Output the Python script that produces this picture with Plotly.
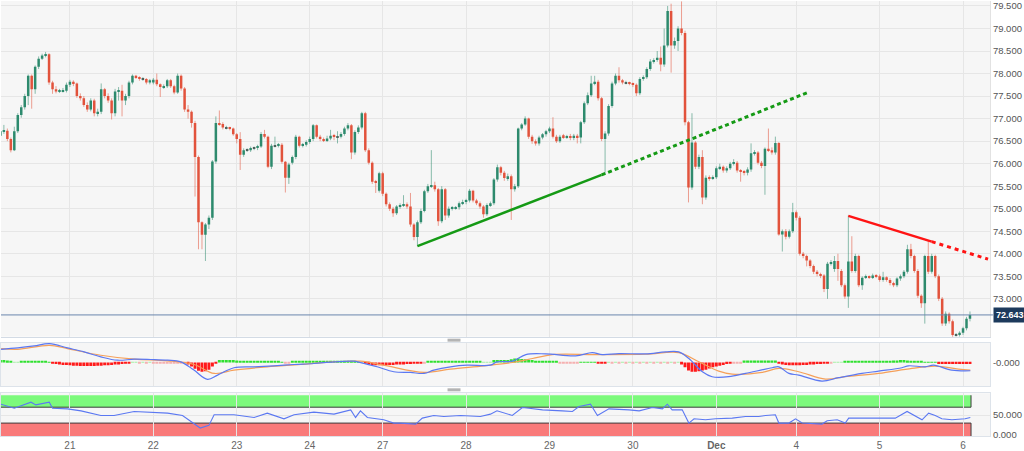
import plotly.graph_objects as go

# ---------------- data ----------------
day_ticks = [20, 44, 68, 89, 110, 134, 158, 182, 206, 229, 253, 277]
day_labels = ['21', '22', '23', '24', '27', '28', '29', '30', '<b>Dec</b>', '4', '5', '6']

opens = [
    76.62, 76.72, 76.73, 76.55, 76.30, 76.72, 77.08, 77.25, 77.50, 77.95,
    77.65, 78.15, 78.33, 78.40, 78.43, 77.80, 77.65, 77.60, 77.61, 77.62,
    77.75, 77.82, 77.78, 77.50, 77.45, 77.30, 77.20, 77.40, 77.12, 77.15,
    77.65, 77.50, 77.40, 77.12, 77.60, 77.62, 77.40, 77.50, 77.80, 77.95,
    77.92, 77.88, 77.88, 77.80, 77.80, 77.86, 77.76, 77.70, 77.72, 77.85,
    77.72, 77.58, 77.95, 77.67, 77.20, 77.15, 76.90, 76.15, 74.70, 74.42,
    74.65, 74.80, 76.05, 76.90, 76.88, 76.80, 76.80, 76.78, 76.65, 76.55,
    76.20, 76.30, 76.30, 76.35, 76.35, 76.38, 76.66, 76.60, 75.93, 76.40,
    76.40, 76.42, 76.04, 75.69, 76.02, 76.15, 76.60, 76.40, 76.42, 76.48,
    76.55, 76.85, 76.60, 76.55, 76.52, 76.56, 76.62, 76.60, 76.60, 76.66,
    76.78, 76.85, 76.25, 76.70, 76.80, 77.12, 76.30, 76.02, 75.60, 75.40,
    75.79, 75.33, 75.10, 75.00, 74.90, 75.05, 75.08, 75.10, 75.05, 74.65,
    74.37, 74.70, 74.95, 75.39, 75.50, 75.52, 75.43, 74.72, 75.43, 74.85,
    75.00, 75.02, 75.03, 75.12, 75.15, 75.18, 75.40, 75.18, 75.12, 75.05,
    74.88, 75.08, 75.12, 75.65, 75.92, 75.80, 75.68, 75.72, 75.43, 75.50,
    76.78, 76.87, 77.00, 76.60, 76.50, 76.45, 76.58, 76.65, 76.72, 76.78,
    76.60, 76.50, 76.63, 76.59, 76.60, 76.57, 76.62, 76.58, 76.92, 77.34,
    77.52, 77.78, 77.82, 77.45, 76.55, 76.67, 77.28, 77.78, 77.95, 77.85,
    77.80, 77.80, 77.78, 77.75, 77.56, 77.88, 77.92, 78.10, 78.27, 78.30,
    78.35, 78.20, 78.62, 79.39, 78.62, 78.72, 79.00, 78.90, 76.92, 75.47,
    76.47, 75.93, 76.15, 75.25, 75.69, 75.68, 75.70, 75.90, 75.93, 75.85,
    75.90, 76.00, 76.02, 75.85, 75.82, 75.80, 75.87, 76.23, 76.25, 76.02,
    75.95, 76.33, 76.30, 76.25, 76.46, 74.43, 74.50, 74.38, 74.50, 74.92,
    74.80, 74.00, 73.95, 73.85, 73.73, 73.60, 73.55, 73.52, 73.22, 73.78,
    73.66, 73.84, 73.62, 73.30, 73.05, 73.83, 73.62, 73.95, 73.30, 73.47,
    73.50, 73.48, 73.52, 73.50, 73.42, 73.48, 73.42, 73.35, 73.30, 73.45,
    73.50, 73.60, 74.10, 73.95, 73.62, 73.07, 72.90, 73.95, 73.60, 73.95,
    73.50, 73.00, 72.45, 72.67, 72.50, 72.20, 72.20, 72.25, 72.35, 72.56,
]
closes = [
    76.72, 76.73, 76.55, 76.30, 76.72, 77.08, 77.25, 77.50, 77.95, 77.65,
    78.15, 78.33, 78.40, 78.43, 77.80, 77.65, 77.60, 77.61, 77.62, 77.75,
    77.82, 77.78, 77.50, 77.45, 77.30, 77.20, 77.40, 77.12, 77.15, 77.65,
    77.50, 77.40, 77.12, 77.60, 77.62, 77.40, 77.50, 77.80, 77.95, 77.92,
    77.88, 77.88, 77.80, 77.85, 77.86, 77.76, 77.70, 77.72, 77.85, 77.72,
    77.58, 77.95, 77.67, 77.20, 77.15, 76.90, 76.15, 74.70, 74.42, 74.65,
    74.80, 76.05, 76.90, 76.88, 76.80, 76.80, 76.78, 76.65, 76.55, 76.20,
    76.30, 76.30, 76.35, 76.35, 76.38, 76.66, 76.60, 75.93, 76.40, 76.40,
    76.42, 76.04, 75.69, 75.98, 76.15, 76.60, 76.40, 76.42, 76.48, 76.55,
    76.85, 76.60, 76.55, 76.52, 76.56, 76.62, 76.60, 76.60, 76.66, 76.78,
    76.85, 76.25, 76.70, 76.80, 77.12, 76.30, 76.02, 75.60, 75.58, 75.79,
    75.33, 75.10, 75.00, 74.90, 75.05, 75.08, 75.10, 75.05, 74.65, 74.37,
    74.70, 74.95, 75.39, 75.50, 75.52, 75.43, 74.72, 75.43, 74.85, 75.00,
    75.02, 75.03, 75.12, 75.15, 75.18, 75.40, 75.18, 75.12, 75.05, 74.88,
    75.08, 75.12, 75.65, 75.92, 75.80, 75.68, 75.72, 75.43, 75.50, 76.78,
    76.87, 77.00, 76.60, 76.50, 76.45, 76.58, 76.65, 76.72, 76.78, 76.60,
    76.50, 76.60, 76.59, 76.60, 76.57, 76.62, 76.58, 76.92, 77.34, 77.52,
    77.78, 77.82, 77.45, 76.55, 76.67, 77.28, 77.78, 77.95, 77.85, 77.80,
    77.80, 77.78, 77.75, 77.56, 77.88, 77.92, 78.10, 78.27, 78.30, 78.35,
    78.20, 78.62, 79.39, 78.62, 78.72, 79.00, 78.90, 76.92, 75.47, 76.47,
    75.93, 76.15, 75.25, 75.69, 75.68, 75.70, 75.90, 75.93, 75.85, 75.90,
    76.00, 76.02, 75.85, 75.82, 75.80, 75.87, 76.23, 76.25, 76.02, 75.95,
    76.33, 76.30, 76.25, 76.46, 74.43, 74.50, 74.38, 74.50, 74.92, 74.80,
    74.00, 73.95, 73.85, 73.73, 73.60, 73.55, 73.52, 73.22, 73.78, 73.80,
    73.84, 73.66, 73.30, 73.05, 73.83, 73.62, 73.95, 73.30, 73.47, 73.50,
    73.48, 73.52, 73.50, 73.42, 73.48, 73.42, 73.35, 73.30, 73.45, 73.50,
    73.60, 74.10, 73.95, 73.62, 73.07, 72.90, 73.95, 73.60, 73.95, 73.50,
    73.00, 72.45, 72.67, 72.50, 72.20, 72.20, 72.25, 72.35, 72.56, 72.643,
]
highs = [
    76.80, 76.86, 76.78, 76.58, 76.82, 77.12, 77.30, 77.55, 77.98, 77.98,
    78.18, 78.38, 78.44, 78.48, 78.45, 77.84, 77.72, 77.66, 77.68, 77.80,
    77.86, 77.85, 77.80, 77.56, 77.50, 77.36, 77.45, 77.44, 77.22, 77.78,
    77.68, 77.56, 77.45, 77.66, 77.70, 77.75, 77.55, 77.84, 77.98, 77.97,
    77.94, 77.92, 77.90, 77.88, 77.90, 78.00, 77.78, 77.76, 77.88, 77.88,
    77.75, 78.00, 77.98, 77.70, 77.30, 77.18, 76.95, 76.18, 74.72, 74.68,
    74.85, 76.08, 77.05, 77.18, 76.92, 76.84, 76.82, 76.80, 76.68, 76.70,
    76.34, 76.34, 76.38, 76.38, 76.42, 76.70, 76.75, 76.62, 76.44, 76.60,
    76.46, 76.46, 76.06, 76.02, 76.18, 76.64, 76.62, 76.46, 76.52, 76.60,
    76.88, 76.87, 76.64, 76.58, 76.62, 76.75, 76.66, 76.72, 76.70, 76.82,
    76.90, 76.88, 76.74, 76.85, 77.15, 77.15, 76.34, 76.05, 75.64, 75.82,
    75.82, 75.36, 75.14, 75.04, 75.08, 75.12, 75.30, 75.14, 75.35, 74.68,
    74.74, 75.00, 75.42, 75.55, 76.30, 75.60, 75.46, 75.50, 75.46, 75.05,
    75.06, 75.06, 75.16, 75.20, 75.22, 75.44, 75.42, 75.22, 75.16, 75.08,
    75.12, 75.16, 75.68, 75.98, 75.95, 75.84, 75.78, 75.76, 75.55, 76.80,
    76.90, 77.05, 77.02, 76.64, 76.54, 76.62, 76.68, 76.75, 76.82, 77.03,
    76.64, 76.64, 76.66, 76.64, 76.66, 76.66, 76.66, 76.95, 77.38, 77.58,
    77.95, 77.95, 77.86, 77.48, 76.72, 77.32, 77.82, 78.00, 78.14, 77.88,
    77.84, 77.82, 77.80, 77.78, 77.92, 77.96, 78.14, 78.32, 78.34, 78.50,
    78.60, 79.00, 79.50, 79.55, 78.80, 79.05, 79.60, 78.95, 76.95, 77.12,
    76.50, 76.20, 76.30, 75.74, 75.74, 75.74, 75.94, 76.00, 75.96, 75.94,
    76.04, 76.10, 76.06, 75.88, 75.86, 75.92, 76.45, 76.30, 76.28, 76.06,
    76.36, 76.78, 76.36, 76.60, 76.48, 74.54, 74.55, 74.54, 75.13, 74.96,
    74.84, 74.04, 73.98, 73.88, 73.76, 73.64, 73.58, 73.55, 73.82, 73.86,
    73.95, 74.00, 73.66, 73.34, 74.85, 74.39, 74.00, 73.98, 73.50, 73.54,
    73.52, 73.56, 73.55, 73.54, 73.60, 73.50, 73.46, 73.38, 73.48, 73.54,
    73.64, 74.20, 74.22, 73.98, 73.66, 73.10, 73.98, 74.28, 74.00, 73.98,
    73.54, 73.04, 72.72, 72.70, 72.54, 72.24, 72.28, 72.38, 72.60, 72.72,
]
lows = [
    76.58, 76.66, 76.50, 76.25, 76.28, 76.68, 77.02, 77.20, 77.30, 77.22,
    77.55, 78.10, 78.30, 78.36, 77.75, 77.55, 77.56, 77.57, 77.58, 77.58,
    77.70, 77.72, 77.46, 77.40, 77.26, 77.15, 77.16, 77.05, 77.05, 77.10,
    77.45, 77.35, 76.98, 77.05, 77.40, 77.05, 77.30, 77.45, 77.76, 77.88,
    77.84, 77.84, 77.76, 77.76, 77.76, 77.72, 77.48, 77.66, 77.68, 77.68,
    77.54, 77.55, 77.62, 77.15, 77.00, 76.80, 75.27, 74.10, 74.10, 73.84,
    74.55, 74.75, 76.00, 76.84, 76.76, 76.76, 76.74, 76.62, 76.45, 75.86,
    76.15, 76.26, 76.26, 76.30, 76.30, 76.35, 76.56, 75.90, 75.88, 76.36,
    76.36, 76.00, 75.36, 75.55, 75.98, 76.10, 76.36, 76.36, 76.38, 76.44,
    76.50, 76.56, 76.50, 76.48, 76.48, 76.52, 76.52, 76.45, 76.56, 76.62,
    76.74, 76.10, 76.20, 76.66, 76.76, 76.26, 75.98, 75.55, 75.35, 75.36,
    75.28, 75.05, 74.95, 74.82, 74.86, 75.00, 75.04, 75.00, 74.60, 74.30,
    74.17, 74.66, 74.92, 75.35, 75.46, 75.38, 74.62, 74.68, 74.75, 74.80,
    74.96, 74.98, 74.98, 75.08, 75.10, 75.14, 75.14, 75.08, 75.00, 74.80,
    74.84, 75.04, 75.08, 75.60, 75.74, 75.62, 75.62, 74.75, 75.38, 75.46,
    76.74, 76.84, 76.55, 76.44, 76.40, 76.40, 76.54, 76.60, 76.68, 76.56,
    76.46, 76.46, 76.55, 76.55, 76.52, 76.52, 76.45, 76.45, 76.88, 77.30,
    77.48, 77.74, 77.40, 76.50, 75.75, 76.62, 77.24, 77.74, 77.80, 77.76,
    77.76, 77.74, 77.70, 77.50, 77.52, 77.84, 77.88, 78.06, 78.22, 78.26,
    78.05, 78.15, 78.58, 78.02, 78.55, 78.50, 78.85, 76.85, 75.14, 75.42,
    75.88, 75.88, 75.10, 75.20, 75.62, 75.64, 75.66, 75.86, 75.80, 75.80,
    75.86, 75.96, 75.80, 75.60, 75.74, 75.74, 75.82, 76.18, 75.98, 75.90,
    75.31, 76.26, 76.20, 76.20, 74.40, 74.05, 74.32, 74.34, 74.46, 74.74,
    73.96, 73.90, 73.72, 73.68, 73.55, 73.50, 73.46, 73.15, 73.00, 73.74,
    73.60, 73.40, 73.26, 73.00, 72.80, 73.58, 73.58, 73.26, 73.20, 73.44,
    73.44, 73.44, 73.46, 73.38, 73.38, 73.38, 73.30, 73.26, 73.26, 73.40,
    73.46, 73.56, 73.90, 73.58, 73.02, 72.80, 72.45, 73.55, 73.56, 73.46,
    72.95, 72.40, 72.40, 72.45, 72.15, 72.16, 72.16, 72.20, 72.30, 72.50,
]

# trend lines (candle index, price)
green_solid_x = [120.0, 173.0]
green_solid_y = [74.17, 75.75]
green_dot_x = [173.0, 232.3]
green_dot_y = [75.75, 77.58]
red_solid_x = [244.0, 268.0]
red_solid_y = [74.84, 74.27]
red_dot_x = [268.0, 284.2]
red_dot_y = [74.27, 73.88]

price_ticks = [73.0, 73.5, 74.0, 74.5, 75.0, 75.5, 76.0, 76.5, 77.0, 77.5, 78.0, 78.5, 79.0, 79.5]

# MACD (sampled from the panel)
macd_x = [0.2, 5.0, 9.75, 14.1, 19.3, 24.1, 28.9, 33.7, 38.5, 43.3, 48.1, 51.9, 55.7, 59.6, 62.5,
          67.2, 73.0, 78.7, 84.5, 90.2, 96.0, 101.7, 104.6, 108.4, 113.2, 118.0, 121.9, 124.7,
          129.5, 134.3, 141.0, 142.9, 147.3, 151.2, 156.9, 165.5, 170.3, 173.2, 178.0, 185.7,
          191.4, 195.2, 198.1, 202.0, 204.8, 209.6, 214.4, 222.1, 224.0, 226.9, 229.7, 236.4,
          241.2, 247.9, 252.7, 259.4, 261.3, 266.1, 268.5, 273.8, 279.1]
macd_v = [0.333, 0.367, 0.417, 0.475, 0.367, 0.267, 0.142, 0.058, 0.083, 0.075, 0.058, 0.017, -0.192,
          -0.425, -0.317, -0.133, -0.108, -0.083, -0.05, -0.025, 0.017, 0.033, -0.025, -0.108,
          -0.233, -0.25, -0.275, -0.192, -0.108, -0.067, -0.067, 0.017, 0.033, 0.2, 0.217, 0.167,
          0.25, 0.2, 0.225, 0.217, 0.267, 0.267, 0.1, -0.233, -0.358, -0.358, -0.275, -0.133,
          -0.108, -0.275, -0.317, -0.467, -0.383, -0.275, -0.217, -0.133, -0.083, -0.108, -0.067,
          -0.192, -0.208]
signal_x = [0.2, 5.0, 14.1, 19.3, 28.9, 38.5, 48.1, 55.7, 61.5, 67.2, 76.8, 86.4, 96.0, 103.6,
            110.3, 121.9, 129.5, 139.1, 147.3, 153.1, 158.8, 171.3, 185.7, 195.2, 201.0, 206.7,
            210.6, 219.2, 224.0, 229.7, 237.4, 243.1, 252.7, 262.3, 269.0, 275.7, 279.1]
signal_v = [0.35, 0.333, 0.433, 0.35, 0.183, 0.083, 0.042, -0.05, -0.275, -0.192, -0.108, -0.05,
            0.017, 0.033, -0.067, -0.25, -0.167, -0.083, 0.0, 0.1, 0.2, 0.2, 0.208, 0.25, 0.017,
            -0.217, -0.292, -0.25, -0.15, -0.233, -0.417, -0.358, -0.275, -0.15, -0.092, -0.167,
            -0.192]
hist = [
    0.06, 0.06, 0.05, 0.04, 0.01, 0.01, 0.04, 0.04, 0.04, 0.04,
    0.04, 0.04, 0.04, 0.04, 0.02, -0.02, -0.04, -0.05, -0.06, -0.06,
    -0.07, -0.08, -0.08, -0.09, -0.09, -0.09, -0.09, -0.09, -0.08, -0.08,
    -0.07, -0.07, -0.06, -0.05, -0.05, -0.04, -0.03, -0.02, 0.01, 0.01,
    -0.01, 0.01, -0.01, 0.01, -0.01, -0.01, -0.015, -0.015, -0.015, -0.015,
    -0.015, -0.015, -0.015, -0.015, -0.05, -0.10, -0.16, -0.21, -0.23, -0.22,
    -0.18, -0.10, -0.03, 0.06, 0.06, 0.06, 0.06, 0.06, 0.05, 0.03,
    0.03, 0.03, 0.03, 0.03, 0.03, 0.03, 0.03, 0.03, 0.03, 0.03,
    0.03, 0.02, -0.01, -0.01, 0.03, 0.03, 0.03, 0.03, 0.03, 0.03,
    0.03, 0.03, 0.03, 0.03, 0.03, 0.03, 0.03, 0.03, 0.03, 0.03,
    0.03, 0.03, 0.03, 0.02, 0.01, -0.03, -0.05, -0.06, -0.07, -0.07,
    -0.07, -0.06, -0.06, -0.06, -0.05, -0.05, -0.05, -0.04, -0.04, -0.03,
    -0.03, -0.02, -0.01, 0.03, 0.03, 0.03, 0.03, 0.03, 0.03, 0.03,
    0.03, 0.03, 0.03, 0.03, 0.03, 0.03, 0.03, 0.03, 0.03, 0.01,
    0.01, 0.01, 0.06, 0.06, 0.06, 0.06, 0.06, 0.08, 0.10, 0.10,
    0.09, 0.08, 0.07, 0.06, 0.03, 0.03, 0.03, 0.03, 0.03, 0.03,
    0.03, -0.01, -0.01, -0.01, -0.01, -0.01, -0.01, 0.02, 0.02, 0.02,
    0.02, 0.02, -0.02, -0.02, -0.02, 0.01, -0.01, 0.01, -0.01, 0.01,
    -0.01, 0.01, -0.01, 0.01, -0.01, 0.01, -0.01, 0.01, -0.01, 0.01,
    -0.01, 0.01, -0.01, 0.01, -0.01, 0.01, -0.05, -0.12, -0.20, -0.23,
    -0.23, -0.22, -0.20, -0.18, -0.15, -0.12, -0.10, -0.08, -0.06, -0.04,
    -0.02, -0.01, -0.01, -0.01, 0.05, 0.05, 0.05, 0.05, 0.05, 0.05,
    0.05, 0.05, 0.05, 0.05, -0.03, -0.05, -0.06, -0.07, -0.07, -0.07,
    -0.07, -0.06, -0.06, -0.05, -0.05, -0.04, -0.04, -0.03, -0.02, -0.01,
    0.01, 0.01, 0.01, 0.04, 0.04, 0.04, 0.04, 0.04, 0.04, 0.04,
    0.04, 0.04, 0.04, 0.04, 0.04, 0.04, 0.04, 0.05, 0.05, 0.06,
    0.06, 0.05, 0.04, 0.04, 0.04, 0.04, 0.02, 0.02, 0.02, 0.02,
    -0.04, -0.04, -0.04, -0.04, -0.04, -0.04, -0.04, -0.04, -0.04, -0.04,
]

# RSI (sampled)
rsi_x = [0.17, 4.0, 8.8, 10.2, 14.05, 15.0, 19.3, 23.2, 28.9, 32.7, 38.5, 48.1, 52.4, 55.7, 57.5,
         60.0, 61.5, 67.2, 73.0, 76.8, 81.6, 84.5, 90.2, 96.0, 98.8, 100.8, 102.2, 103.6, 105.6,
         110.3, 113.2, 115.1, 119.5, 121.4, 124.7, 127.6, 132.4, 138.1, 141.0, 142.9, 147.3,
         150.2, 152.1, 156.0, 161.7, 164.6, 166.5, 169.8, 171.8, 175.1, 180.9, 183.8, 187.6,
         190.5, 191.9, 193.3, 196.2, 198.1, 199.6, 202.9, 205.8, 210.6, 214.4, 218.2, 220.2,
         223.0, 224.0, 226.9, 228.8, 230.7, 236.4, 237.9, 240.8, 243.1, 244.1, 247.9, 252.7,
         257.5, 260.9, 265.2, 267.1, 269.0, 270.9, 273.8, 277.6, 279.1]
rsi_v = [77.5, 67.5, 82.5, 75.8, 82.5, 67.5, 65.8, 60.8, 49.2, 49.2, 59.2, 55.0, 49.2, 27.5, 17.5,
         24.2, 50.8, 50.8, 44.2, 55.0, 40.8, 50.8, 57.5, 52.5, 59.2, 63.3, 44.2, 60.8, 44.2, 38.3,
         30.0, 30.0, 27.5, 42.5, 49.2, 46.7, 49.2, 46.7, 52.5, 60.8, 49.2, 69.2, 67.5, 63.3, 60.8,
         59.2, 71.7, 77.5, 49.2, 65.8, 63.3, 60.8, 69.2, 65.8, 77.5, 63.3, 63.3, 30.0, 40.8, 38.3,
         40.8, 42.5, 46.7, 46.7, 49.2, 50.8, 30.0, 30.0, 40.8, 30.0, 27.5, 35.8, 38.3, 30.0, 42.5,
         42.5, 40.8, 42.5, 59.2, 38.3, 55.0, 49.2, 40.8, 38.3, 40.8, 44.2]

# ---------------- figure ----------------
N = len(closes)
idx = list(range(N))
X_RANGE = [0.17, 284.76]

GREEN = '#2e8b6e'
RED = '#e2533d'
GRID = '#e6e6e6'
FONT = 'Liberation Sans, Arial, sans-serif'

fig = go.Figure()

# wicks
wgx, wgy, wrx, wry = [], [], [], []
for i, (o, h, l, c) in enumerate(zip(opens, highs, lows, closes)):
    if c >= o:
        wgx += [i, i, None]; wgy += [l, h, None]
    else:
        wrx += [i, i, None]; wry += [l, h, None]
fig.add_trace(go.Scatter(x=wgx, y=wgy, mode='lines', line=dict(color='rgba(46,139,110,0.55)', width=1),
                         hoverinfo='skip', xaxis='x', yaxis='y'))
fig.add_trace(go.Scatter(x=wrx, y=wry, mode='lines', line=dict(color='rgba(226,83,61,0.55)', width=1),
                         hoverinfo='skip', xaxis='x', yaxis='y'))

# bodies
MINB = 0.02
bh, bb, bc = [], [], []
for o, c in zip(opens, closes):
    d = abs(c - o)
    hgt = max(d, MINB)
    bh.append(hgt)
    bb.append(min(o, c) - (hgt - d) / 2)
    if abs(c - o) < 0.005:
        bc.append('#555555')
    elif c > o:
        bc.append(GREEN)
    else:
        bc.append(RED)
fig.add_trace(go.Bar(x=idx, y=bh, base=bb, width=0.72, marker=dict(color=bc, line=dict(width=0)),
                     hoverinfo='skip', xaxis='x', yaxis='y'))

# trend lines
fig.add_trace(go.Scatter(x=green_solid_x, y=green_solid_y, mode='lines',
                         line=dict(color='#159a15', width=2.5), xaxis='x', yaxis='y'))
fig.add_trace(go.Scatter(x=green_dot_x, y=green_dot_y, mode='lines',
                         line=dict(color='#159a15', width=3, dash='4px,3px'), xaxis='x', yaxis='y'))
fig.add_trace(go.Scatter(x=red_solid_x, y=red_solid_y, mode='lines',
                         line=dict(color='#ff1414', width=2.5), xaxis='x', yaxis='y'))
fig.add_trace(go.Scatter(x=red_dot_x, y=red_dot_y, mode='lines',
                         line=dict(color='#ff1414', width=3, dash='4px,4px'), xaxis='x', yaxis='y'))

# MACD
hc = []
for v in hist:
    if v >= 0:
        hc.append('#2fe02f' if v > 0.015 else '#a6f0a6')
    else:
        hc.append('#ff1a1a' if v < -0.015 else '#f5b1b1')
fig.add_trace(go.Bar(x=idx, y=hist, width=0.85, marker=dict(color=hc, line=dict(width=0)),
                     hoverinfo='skip', xaxis='x2', yaxis='y2'))
fig.add_trace(go.Scatter(x=signal_x, y=signal_v, mode='lines', line=dict(color='#f5a05a', width=1.2, shape='spline'),
                         xaxis='x2', yaxis='y2'))
fig.add_trace(go.Scatter(x=macd_x, y=macd_v, mode='lines', line=dict(color='#5b78f2', width=1.2, shape='spline'),
                         xaxis='x2', yaxis='y2'))

# RSI
fig.add_trace(go.Scatter(x=rsi_x, y=rsi_v, mode='lines', line=dict(color='#5b78f2', width=1.1),
                         xaxis='x3', yaxis='y3'))

last = closes[-1]
RSI_RANGE = [-2.5, 105]

shapes = [
    # current price line
    dict(type='line', xref='x domain', x0=0, x1=1.003, yref='y', y0=last, y1=last,
         line=dict(color='#6b86ad', width=1), layer='above'),
    # RSI bands
    dict(type='rect', xref='x3', x0=X_RANGE[0], x1=N - 1 + 0.3, yref='y3', y0=70, y1=100,
         fillcolor='#7cfa7c', line=dict(width=0), layer='below'),
    dict(type='rect', xref='x3', x0=X_RANGE[0], x1=N - 1 + 0.3, yref='y3', y0=RSI_RANGE[0], y1=30,
         fillcolor='#f97a7a', line=dict(width=0), layer='below'),
    dict(type='line', xref='x3', x0=X_RANGE[0], x1=N - 1 + 0.3, yref='y3', y0=70, y1=70,
         line=dict(color='#3c3c3c', width=1), layer='below'),
    dict(type='line', xref='x3', x0=X_RANGE[0], x1=N - 1 + 0.3, yref='y3', y0=30, y1=30,
         line=dict(color='#3c3c3c', width=1), layer='below'),
    dict(type='line', xref='x3', x0=N - 1 + 0.3, x1=N - 1 + 0.3, yref='y3', y0=70, y1=100,
         line=dict(color='#3c3c3c', width=1), layer='below'),
    dict(type='line', xref='x3', x0=N - 1 + 0.3, x1=N - 1 + 0.3, yref='y3', y0=RSI_RANGE[0], y1=30,
         line=dict(color='#3c3c3c', width=1), layer='below'),
    # pane handles
    dict(type='rect', xref='paper', yref='paper', x0=0.4515, x1=0.4646, y0=0.2169, y1=0.2237,
         fillcolor='#b4b4b4', line=dict(width=0)),
    dict(type='rect', xref='paper', yref='paper', x0=0.4515, x1=0.4646, y0=0.1027, y1=0.1096,
         fillcolor='#b4b4b4', line=dict(width=0)),
]

annotations = [
    dict(xref='paper', x=1.0, xanchor='left', xshift=3, yref='y', y=last, yanchor='middle',
         text='<b>%.3f</b>' % last, showarrow=False, bgcolor='#1d3a5c', borderpad=2,
         font=dict(color='white', size=9, family=FONT)),
]

axis_common = dict(range=X_RANGE, tickvals=day_ticks, showgrid=True, gridcolor=GRID, gridwidth=1,
                   zeroline=False, ticks='')

fig.update_layout(
    width=1024, height=451,
    margin=dict(l=0, r=34, t=0, b=13),
    paper_bgcolor='white', plot_bgcolor='#f6f6f6',
    showlegend=False, hovermode=False, barmode='overlay',
    font=dict(family=FONT, size=10, color='#555'),
    xaxis=dict(**axis_common, domain=[0, 1], anchor='y', showticklabels=False,
               showline=True, linecolor='#d3dbe5', linewidth=1),
    xaxis2=dict(**axis_common, domain=[0, 1], anchor='y2', matches='x', showticklabels=False,
                showline=True, linecolor='#dde3ea', mirror=True),
    xaxis3=dict(**axis_common, domain=[0, 1], anchor='y3', matches='x', showticklabels=True,
                ticktext=day_labels, tickfont=dict(size=10, color='#666'),
                showline=True, linecolor='#dde3ea', mirror=True, ticklabeloverflow='allow'),
    yaxis=dict(domain=[0.2283, 1], range=[72.16, 79.61], side='right', anchor='x',
               tickvals=price_ticks, ticktext=['%.3f' % v for v in price_ticks],
               tickfont=dict(size=9.5, color='#555'), showgrid=True, gridcolor=GRID,
               zeroline=False, showline=True, linecolor='#e2e2e2', ticks='',
               ticklabeloverflow='allow'),
    yaxis2=dict(domain=[0.1142, 0.2146], range=[-0.6, 0.5], side='right', anchor='x2',
                tickvals=[0], ticktext=['-0.000'], tickfont=dict(size=9.5, color='#555'),
                showgrid=False, zeroline=False, showline=True, linecolor='#dde3ea', mirror=True, ticks=''),
    yaxis3=dict(domain=[0, 0.0982], range=RSI_RANGE, side='right', anchor='x3',
                tickvals=[0, 50], ticktext=['0.000', '50.000'], tickfont=dict(size=9.5, color='#555'),
                showgrid=True, gridcolor=GRID, zeroline=False, showline=True, linecolor='#dde3ea',
                mirror=True, ticks='', ticklabeloverflow='allow'),
    shapes=shapes, annotations=annotations,
)

fig.write_html('out.html', config={'displayModeBar': False},
               post_script="document.body.style.margin='0';document.body.style.overflow='hidden';")
